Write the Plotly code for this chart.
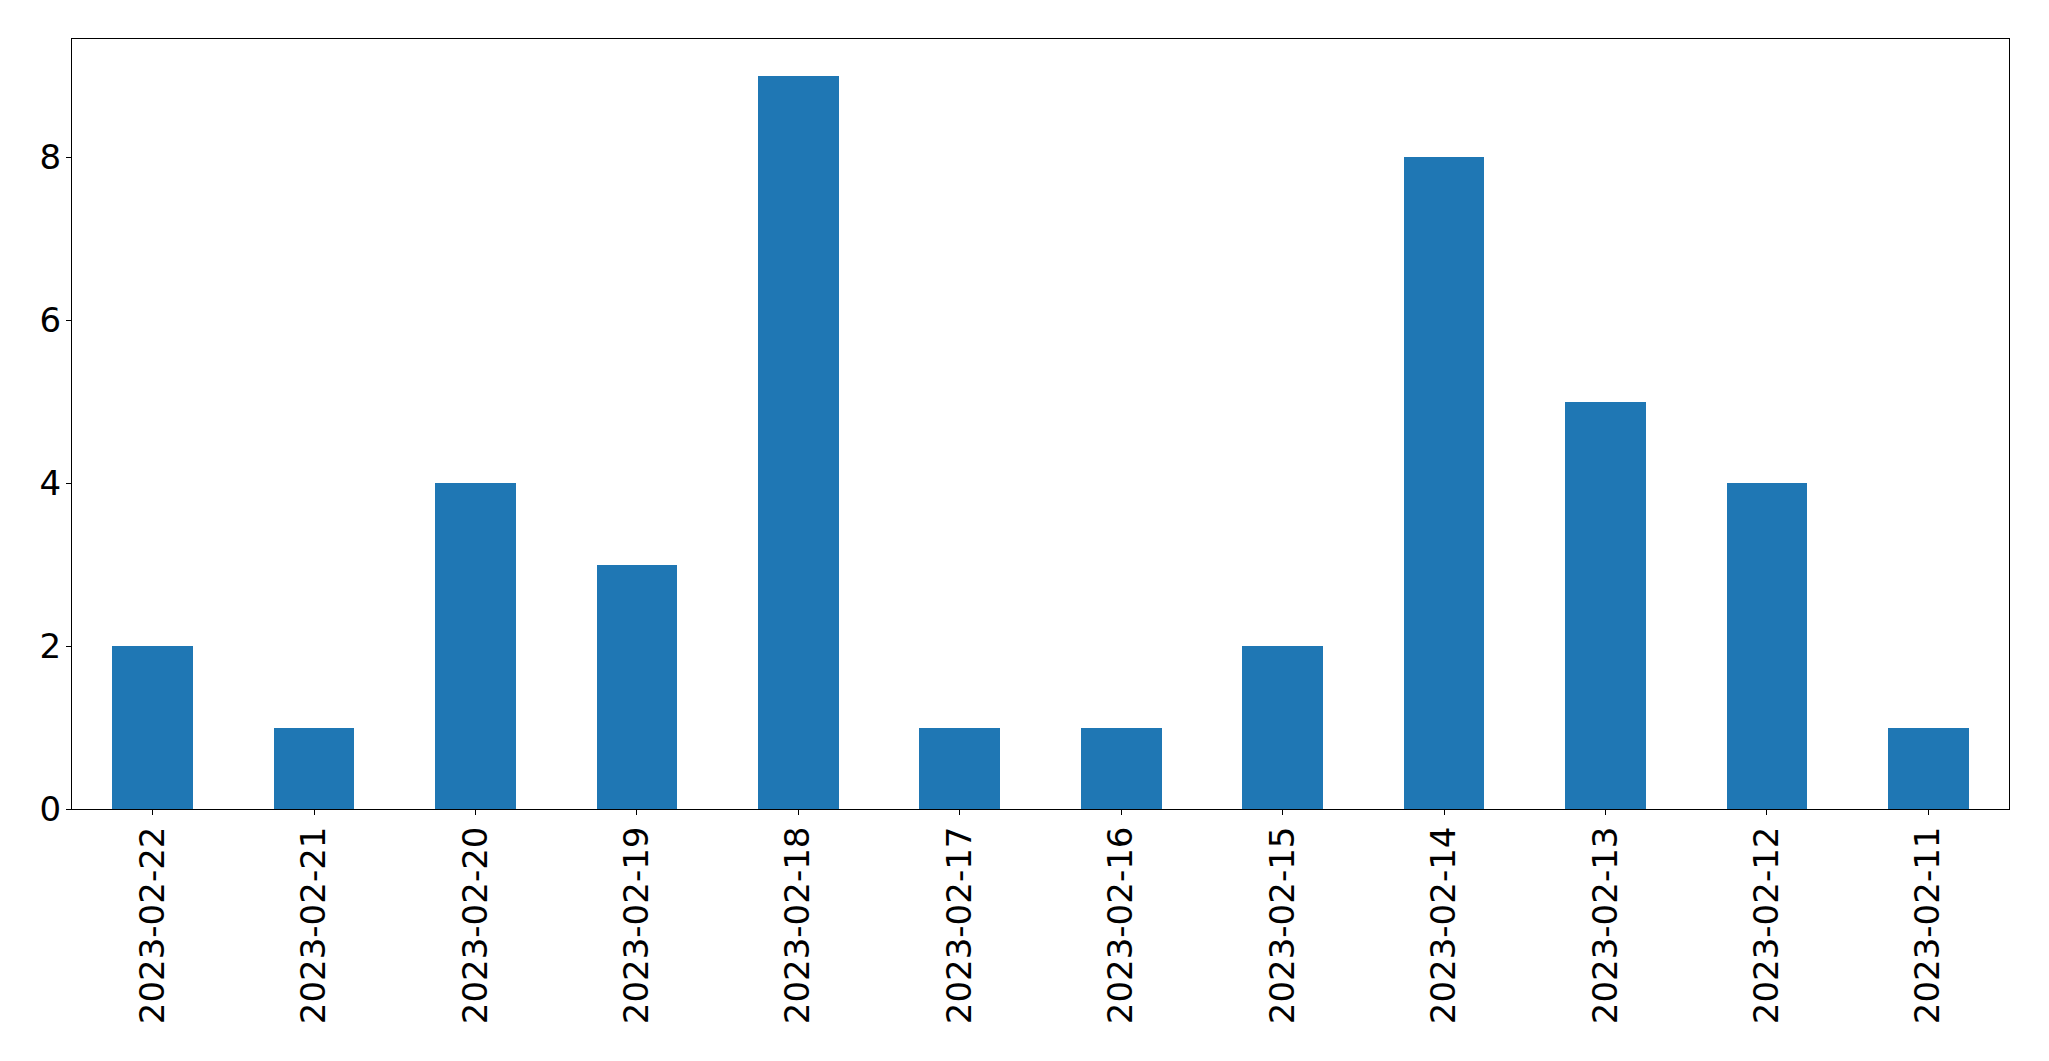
import plotly.graph_objects as go

dates = ["2023-02-22", "2023-02-21", "2023-02-20", "2023-02-19", "2023-02-18", "2023-02-17",
         "2023-02-16", "2023-02-15", "2023-02-14", "2023-02-13", "2023-02-12", "2023-02-11"]
counts = [2, 1, 4, 3, 9, 1, 1, 2, 8, 5, 4, 1]
y_ticks = [0, 2, 4, 6, 8]

fig = go.Figure()
fig.add_trace(go.Bar(
    x=list(range(len(dates))), y=counts, width=0.5,
    marker=dict(color="#1f77b4", line=dict(width=0)),
))

font = dict(family="DejaVu Sans", size=34, color="black")
fig.update_layout(
    width=2049, height=1061,
    autosize=False,
    margin=dict(l=72, r=40, t=39, b=252),
    paper_bgcolor="white", plot_bgcolor="white",
    showlegend=False,
    font=font,
    bargap=0,
)
fig.update_xaxes(
    range=[-0.5, 11.5], tickmode="array",
    tickvals=list(range(len(dates))), ticktext=dates,
    tickangle=-90, ticks="outside", ticklen=5, tickwidth=1, tickcolor="black",
    showline=True, linecolor="black", linewidth=1, mirror=True,
    showgrid=False, zeroline=False, tickfont=font, ticklabelstandoff=-2,
)
fig.update_yaxes(
    range=[0, 9.45], tickmode="array", tickvals=y_ticks,
    ticks="outside", ticklen=5, tickwidth=1, tickcolor="black",
    showline=True, linecolor="black", linewidth=1, mirror=True,
    showgrid=False, zeroline=False, tickfont=font, ticklabelstandoff=-2,
)
fig.write_html(
    "out.html",
    config={"responsive": False, "displayModeBar": False},
    post_script="document.body.style.margin='0';document.body.style.overflow='hidden';",
)
